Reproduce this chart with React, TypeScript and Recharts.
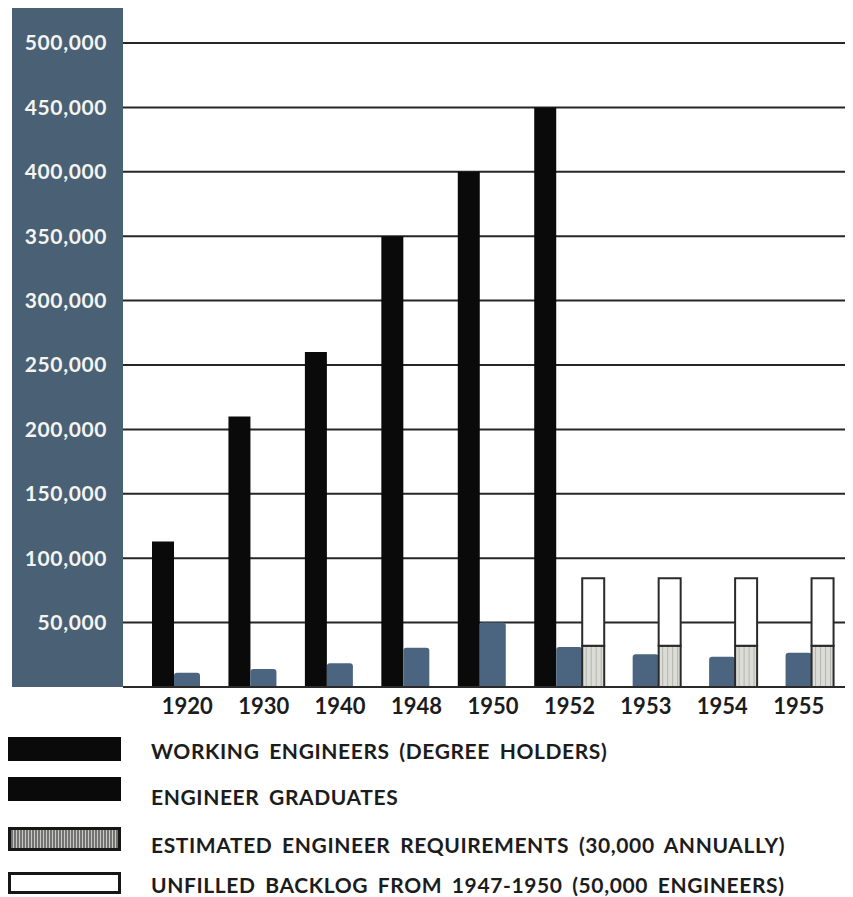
import React from 'react';
import { BarChart, Bar, XAxis, YAxis, CartesianGrid, Legend } from 'recharts';

const years = ['1920', '1930', '1940', '1948', '1950', '1952', '1953', '1954', '1955'];
const workingEngineers = [113000, 210000, 260000, 350000, 400000, 450000, null, null, null];
const graduates = [11000, 14000, 18500, 30500, 50000, 31000, 25500, 23500, 26500];
const requirements = [null, null, null, null, null, 32000, 32000, 32000, 32000];
const backlog = [null, null, null, null, null, 52500, 52500, 52500, 52500];
const yTicks = [50000, 100000, 150000, 200000, 250000, 300000, 350000, 400000, 450000, 500000];

const seriesOrder = ['working', 'graduates', 'requirements', 'backlog'];
const seriesNames: Record<string, string> = {
  working: 'WORKING ENGINEERS (DEGREE HOLDERS)',
  graduates: 'ENGINEER GRADUATES',
  requirements: 'ESTIMATED ENGINEER REQUIREMENTS (30,000 ANNUALLY)',
  backlog: 'UNFILLED BACKLOG FROM 1947-1950 (50,000 ENGINEERS)',
};

const data = years.map((year, i) => ({
  year,
  working: workingEngineers[i],
  graduates: graduates[i],
  requirements: requirements[i],
  backlog: backlog[i],
}));

const FONT = 'Lato, "Open Sans", sans-serif';
const PANEL = '#4a6075';
const GRAD = '#4b6580';
const INK = '#161616';

const HatchedBar = (props: any) => {
  const { x, y, width, height } = props;
  if (!height || height <= 0) return null;
  const lines = [];
  for (let lx = x + 4; lx < x + width - 2; lx += 5) {
    lines.push(<line key={lx} x1={lx} x2={lx} y1={y + 1} y2={y + height - 1} stroke="#b5b5b0" strokeWidth={1} />);
  }
  return (
    <g>
      <rect x={x} y={y} width={width} height={height} fill="#dcdcd6" />
      {lines}
      <rect x={x} y={y} width={width} height={height} fill="none" stroke="#2a2a2a" strokeWidth={2} />
    </g>
  );
};

const GradBar = (props: any) => {
  const { x, y, width, height } = props;
  if (!height || height <= 0) return null;
  const r = 3;
  return (
    <path
      d={`M${x},${y + height} L${x},${y + r} Q${x},${y} ${x + r},${y} L${x + width - r},${y} Q${x + width},${y} ${x + width},${y + r} L${x + width},${y + height} Z`}
      fill={GRAD}
    />
  );
};

const Swatch = ({ kind }: { kind: string }) => {
  const w = 113;
  const h = 24;
  if (kind === 'requirements') {
    const lines = [];
    for (let lx = 4; lx < w - 2; lx += 3) {
      lines.push(<line key={lx} x1={lx} x2={lx} y1={3} y2={h - 3} stroke="#3a3a3a" strokeWidth={1.2} />);
    }
    return (
      <svg width={w} height={h} style={{ display: 'block' }}>
        <rect x={0} y={0} width={w} height={h} fill="#c9c9c4" />
        {lines}
        <rect x={1.5} y={1.5} width={w - 3} height={h - 3} fill="none" stroke={INK} strokeWidth={3} />
      </svg>
    );
  }
  if (kind === 'backlog') {
    return (
      <svg width={w} height={h - 2} style={{ display: 'block' }}>
        <rect x={1.5} y={1.5} width={w - 3} height={h - 5} fill="#fff" stroke={INK} strokeWidth={3} />
      </svg>
    );
  }
  return (
    <svg width={w} height={h} style={{ display: 'block' }}>
      <rect x={0} y={0} width={w} height={h} fill="#0a0a0a" />
    </svg>
  );
};

const rowTops = [12, 52, 102, 147];
const textTops = [17, 63, 111, 151];

const LegendContent = (props: any) => {
  const payload = props.payload || [];
  const ordered = seriesOrder
    .map((k) => payload.find((p: any) => p.dataKey === k))
    .filter(Boolean);
  return (
    <div style={{ position: 'relative', width: 845, height: 160, fontFamily: FONT }}>
      {ordered.map((entry: any, i: number) => (
        <React.Fragment key={entry.dataKey}>
          <div style={{ position: 'absolute', left: 0, top: rowTops[i] }}>
            <Swatch kind={entry.dataKey} />
          </div>
          <div
            style={{
              position: 'absolute',
              left: 143,
              top: textTops[i],
              fontSize: 21,
              fontWeight: 700,
              color: '#1c1c1c',
              letterSpacing: 0.6,
              wordSpacing: 4,
              lineHeight: '18px',
              whiteSpace: 'nowrap',
            }}
          >
            {entry.value}
          </div>
        </React.Fragment>
      ))}
    </div>
  );
};

export default function App() {
  return (
    <div style={{ position: 'relative', width: 845, height: 889, background: '#fff' }}>
      <div
        style={{ position: 'absolute', left: 4, top: 0, width: 111, height: 679, background: PANEL }}
      />
      <div style={{ position: 'absolute', left: 0, top: 0 }}>
        <BarChart
          width={845}
          height={889}
          data={data}
          margin={{ top: 35, right: 0, left: 0, bottom: 170 }}
          barGap={0}
          barCategoryGap={0}
        >
          <CartesianGrid horizontal vertical={false} stroke="#262626" strokeWidth={2} />
          <XAxis
            dataKey="year"
            padding={{ left: 26, right: 16 }}
            tickLine={false}
            tickSize={0}
            tickMargin={11}
            axisLine={{ stroke: '#2a2a2a', strokeWidth: 2 }}
            tick={{ fill: '#1c1c1c', fontSize: 22, fontWeight: 700, fontFamily: FONT }}
            height={40}
            interval={0}
          />
          <YAxis
            domain={[0, 500000]}
            ticks={yTicks}
            width={115}
            tickLine={false}
            axisLine={false}
            tickSize={0}
            tickMargin={16}
            interval={0}
            tickFormatter={(v: number) => v.toLocaleString('en-US')}
            tick={{ fill: '#f4f4f0', fontSize: 21, fontWeight: 700, fontFamily: FONT, letterSpacing: 0.6 }}
          />
          <Legend
            layout="horizontal"
            verticalAlign="middle"
            align="center"
            wrapperStyle={{ top: 717, left: 0, width: 845, height: 160 }}
            content={LegendContent}
          />
          <Bar dataKey="working" name={seriesNames.working} stackId="w" fill="#0a0a0a" barSize={22} isAnimationActive={false} />
          <Bar dataKey="graduates" name={seriesNames.graduates} stackId="g" fill={GRAD} barSize={26} shape={GradBar} isAnimationActive={false} />
          <Bar dataKey="requirements" name={seriesNames.requirements} stackId="s" fill="#dcdcd6" barSize={22} shape={HatchedBar} isAnimationActive={false} />
          <Bar dataKey="backlog" name={seriesNames.backlog} stackId="s" fill="#fff" stroke="#2a2a2a" strokeWidth={2} barSize={22} isAnimationActive={false} />
        </BarChart>
      </div>
    </div>
  );
}
